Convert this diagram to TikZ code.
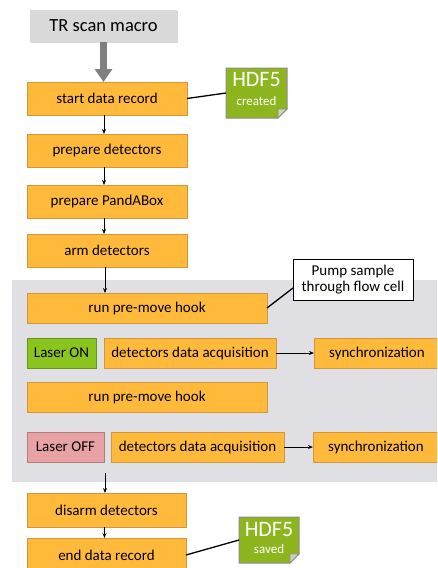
\documentclass[tikz,border=0pt]{standalone}
\usepackage{fontspec}
\setmainfont{Carlito}
\usetikzlibrary{arrows.meta,shadows,calc}
\definecolor{boxor}{RGB}{255,186,60}
\definecolor{boxorline}{RGB}{210,150,60}
\definecolor{bggray}{RGB}{224,223,227}
\definecolor{macgray}{RGB}{217,217,217}
\definecolor{arrgray}{RGB}{128,128,128}
\definecolor{laseron}{RGB}{140,196,30}
\definecolor{laseronline}{RGB}{100,150,30}
\definecolor{laseroff}{RGB}{232,162,164}
\definecolor{laseroffline}{RGB}{180,125,125}
\definecolor{hdfgreen}{RGB}{140,181,30}
\definecolor{hdfline}{RGB}{140,140,140}
\definecolor{hdffold}{RGB}{205,212,180}
\begin{document}
\begin{tikzpicture}[x=1pt,y=-1pt,
  base/.style={inner sep=0pt, outer sep=0pt, font=\fontsize{15}{17}\selectfont,
    drop shadow={shadow xshift=1pt,shadow yshift=-1.2pt,opacity=0.3}},
  obox/.style={base, fill=boxor, draw=boxorline, line width=0.6pt},
  onbox/.style={base, fill=laseron, draw=laseronline, line width=0.6pt},
  offbox/.style={base, fill=laseroff, draw=laseroffline, line width=0.6pt},
  macbox/.style={base, fill=macgray, font=\fontsize{18.5}{20}\selectfont},
  notebox/.style={inner sep=0pt, outer sep=0pt, fill=white, draw=black, line width=0.8pt,
    align=center, font=\fontsize{15}{16.5}\selectfont},
  hdfshape/.style={inner sep=0pt, outer sep=0pt},
  hdfoutline/.style={fill=hdfgreen, draw=hdfline, line width=1pt, line join=miter},
  hdffoldstyle/.style={fill=hdffold, draw=hdfline, line width=0.8pt},
  hdfbig/.style={text=white, inner sep=0pt, font=\fontsize{22}{22}\selectfont},
  hdfsmall/.style={text=white, inner sep=0pt, font=\fontsize{13}{13}\selectfont},
  flow/.style={-{Stealth[length=5pt,width=4pt]}, line width=0.9pt},
  link/.style={line width=1.3pt},
  bigarrow/.style={draw=arrgray, line width=7pt, -{Triangle[length=13pt,width=17pt]}}
]
\useasboundingbox (0,0) rectangle (437,568);
\clip (0,0) rectangle (437,568);
\fill[bggray] (12,280) rectangle (445,482);

\node[macbox, minimum width=147pt, minimum height=32pt] (mac) at (103.5,26) {TR scan macro};
\node[obox, minimum width=160pt, minimum height=33pt] (start) at (107,98.5) {start data record};
\node[obox, minimum width=160pt, minimum height=33pt] (pdet) at (107,150.5) {prepare detectors};
\node[obox, minimum width=160pt, minimum height=33pt] (ppanda) at (107,201.5) {prepare PandABox};
\node[obox, minimum width=160pt, minimum height=33pt] (arm) at (107,250.5) {arm detectors};

\node[obox, minimum width=240pt, minimum height=30pt] (run1) at (147,308) {run pre-move hook};
\node[notebox, minimum width=120pt, minimum height=41pt] (pump) at (353,279.5) {Pump sample\\through flow cell};
\node[onbox, minimum width=69pt, minimum height=30pt] (lon) at (61.5,353) {Laser ON};
\node[obox, minimum width=172pt, minimum height=30pt] (det1) at (190,353) {detectors data acquisition};
\node[obox, minimum width=126pt, minimum height=30pt] (sync1) at (377,353) {synchronization};
\node[obox, minimum width=240pt, minimum height=30pt] (run2) at (147,397) {run pre-move hook};
\node[offbox, minimum width=77pt, minimum height=30pt] (loff) at (65.5,447) {Laser OFF};
\node[obox, minimum width=173pt, minimum height=30pt] (det2) at (197.5,447) {detectors data acquisition};
\node[obox, minimum width=126pt, minimum height=30pt] (sync2) at (376,447) {synchronization};

\node[obox, minimum width=159pt, minimum height=34pt] (disarm) at (106.5,510) {disarm detectors};
\node[obox, minimum width=159pt, minimum height=34pt] (enddr) at (106.5,555) {end data record};

% HDF5 created note
\node[hdfshape, minimum width=61pt, minimum height=50pt] (h1) at (256.5,93) {};
\draw[hdfoutline] (h1.north west) -- (h1.north east) -- ($(h1.south east)+(0,-9)$)
  -- ($(h1.south east)+(-9,0)$) -- (h1.south west) -- cycle;
\draw[hdffoldstyle] ($(h1.south east)+(0,-9)$) -- ($(h1.south east)+(-9,-9)$) -- ($(h1.south east)+(-9,0)$) -- cycle;
\node[hdfbig] (h1a) at ([yshift=13pt]h1.center) {HDF5};
\node[hdfsmall] (h1b) at ([yshift=-8pt]h1.center) {created};

% HDF5 saved note
\node[hdfshape, minimum width=60pt, minimum height=46pt] (h2) at (269,540) {};
\draw[hdfoutline] (h2.north west) -- (h2.north east) -- ($(h2.south east)+(0,-9)$)
  -- ($(h2.south east)+(-9,0)$) -- (h2.south west) -- cycle;
\draw[hdffoldstyle] ($(h2.south east)+(0,-9)$) -- ($(h2.south east)+(-9,-9)$) -- ($(h2.south east)+(-9,0)$) -- cycle;
\node[hdfbig] (h2a) at ([yshift=10pt]h2.center) {HDF5};
\node[hdfsmall] (h2b) at ([yshift=-9pt]h2.center) {saved};

% connectors
\draw[bigarrow] (mac.south) -- (mac.south |- start.north);
\draw[flow] ([xshift=-3pt]start.south) -- ([xshift=-3pt]pdet.north);
\draw[flow] ([xshift=-3pt]pdet.south) -- ([xshift=-3pt]ppanda.north);
\draw[flow] ([xshift=-3pt]ppanda.south) -- ([xshift=-3pt]arm.north);
\draw[flow] ([xshift=-2pt]arm.south) -- ([xshift=-2pt]arm.south |- run1.north);
\draw[flow] (det1.east) -- (sync1.west);
\draw[flow] (det2.east) -- (sync2.west);
\coordinate (offout) at (105,473);
\draw[flow] (offout) -- (offout |- disarm.north);
\draw[flow] ([xshift=-2pt]disarm.south) -- ([xshift=-2pt]enddr.north);
\draw[link] (start.east) -- (h1.west);
\draw[link] (run1.east) -- ($(pump.south west)+(0,-12)$);
\draw[link] (enddr.east) -- (h2.west);
\end{tikzpicture}
\end{document}
